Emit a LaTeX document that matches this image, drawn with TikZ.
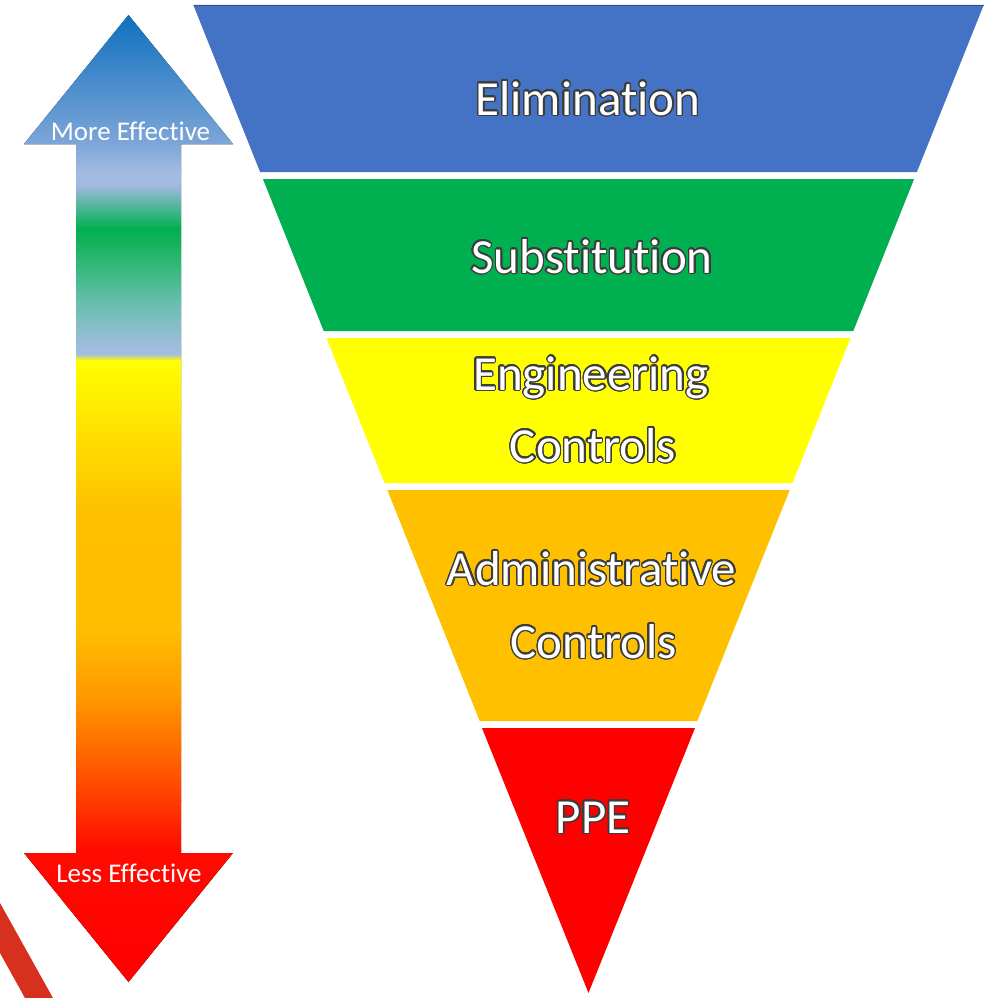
\documentclass[tikz,border=0pt]{standalone}
\usepackage{fontspec}
\setmainfont[Ligatures={NoCommon}]{Carlito}
\usepackage{contour}
\contourlength{1.4pt}
\contournumber{24}
\definecolor{outl}{RGB}{60,60,60}
\definecolor{cblue}{RGB}{68,114,196}
\definecolor{cgreen}{RGB}{0,176,80}
\definecolor{cyellow}{RGB}{255,255,0}
\definecolor{corange}{RGB}{255,192,0}
\definecolor{cred}{RGB}{255,0,0}
\definecolor{stripe}{RGB}{214,48,30}
\definecolor{g0}{RGB}{16,112,192}
\definecolor{g1}{RGB}{126,166,216}
\definecolor{g2}{RGB}{163,187,226}
\definecolor{g4}{RGB}{0,176,80}
\definecolor{g5}{RGB}{20,178,90}
\definecolor{g6}{RGB}{100,190,170}
\definecolor{g7}{RGB}{163,189,224}
\definecolor{g9}{RGB}{255,255,0}
\definecolor{g10}{RGB}{255,238,0}
\definecolor{g11}{RGB}{255,192,0}
\definecolor{g12}{RGB}{255,190,0}
\definecolor{g13}{RGB}{255,150,0}
\definecolor{g14}{RGB}{255,105,0}
\definecolor{g15}{RGB}{255,60,0}
\definecolor{g16}{RGB}{255,10,0}
\definecolor{g17}{RGB}{255,0,0}
\newcommand{\gstrip}[4]{\fill[top color=#3,bottom color=#4,draw=none] (15,#1) rectangle (245,#2+0.6);}
\newcommand{\layer}[3]{\fill[#3] ({588.5-0.4*(993-#1)},#1) -- ({588.5+0.4*(993-#1)},#1) -- ({588.5+0.4*(993-#2)},#2) -- ({588.5-0.4*(993-#2)},#2) -- cycle;}
\tikzset{
  lbl/.style={font=\fontsize{49}{72}\selectfont, text=white, inner sep=0pt, anchor=base},
  arrlbl/.style={font=\fontsize{27}{30}\selectfont, text=white, inner sep=0pt, anchor=base}
}
\begin{document}
\begin{tikzpicture}[x=1pt,y=-1pt]
\useasboundingbox (0,0) rectangle (986,998);
% corner stripe
\fill[stripe] (0,903) -- (53,998) -- (25,998) -- (0,953) -- cycle;
% gradient double arrow
\begin{scope}
\clip (128.5,15) -- (233,144) -- (181,144) -- (181,853) -- (233,853) -- (128.5,982)
  -- (24,853) -- (76,853) -- (76,144) -- (24,144) -- cycle;
\gstrip{15}{144}{g0}{g1}
\gstrip{144}{172}{g1}{g2}
\gstrip{172}{184}{g2}{g2}
\gstrip{184}{228}{g2}{g4}
\gstrip{228}{242}{g4}{g5}
\gstrip{242}{300}{g5}{g6}
\gstrip{300}{348}{g6}{g7}
\gstrip{348}{354}{g7}{g7}
\gstrip{354}{360}{g7}{g9}
\gstrip{360}{400}{g9}{g10}
\gstrip{400}{510}{g10}{g11}
\gstrip{510}{630}{g11}{g12}
\gstrip{630}{700}{g12}{g13}
\gstrip{700}{750}{g13}{g14}
\gstrip{750}{800}{g14}{g15}
\gstrip{800}{850}{g15}{g16}
\gstrip{850}{985}{g16}{g17}
\end{scope}
\node[arrlbl] (more) at (130.5,140) {More Effective};
\node[arrlbl] (less) at (129,882) {Less Effective};
% inverted pyramid
\layer{5}{172}{cblue}
\draw[line width=1pt, cblue!70!black] (193.5,5.5) -- (983.5,5.5);
\layer{179}{331}{cgreen}
\layer{338}{483}{cyellow}
\layer{490}{721}{corange}
\fill[cred] (482,728) -- (695,728) -- (588.5,993) -- cycle;
% labels
\node[lbl] (elim) at (588,115) {\contour{outl}{Elimination}};
\node[lbl] (subst) at (592,273) {\contour{outl}{Substitution}};
\node[lbl] (eng1) at (591,390) {\contour{outl}{Engineering}};
\node[lbl] (eng2) at (593,462) {\contour{outl}{Controls}};
\node[lbl] (adm1) at (591.5,585) {\contour{outl}{Administrative}};
\node[lbl] (adm2) at (593.5,658) {\contour{outl}{Controls}};
\node[lbl] (ppe) at (593,833) {\contour{outl}{PPE}};
\end{tikzpicture}
\end{document}
